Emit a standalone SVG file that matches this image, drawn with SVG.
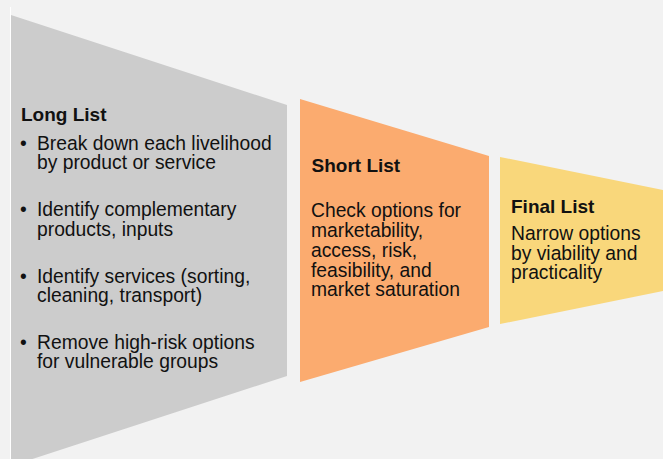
<svg xmlns="http://www.w3.org/2000/svg" width="663" height="459" viewBox="0 0 663 459">
  <style>
    .head { font-family: "Liberation Sans", Arial, sans-serif; font-weight: bold; font-size: 19px; fill: #111; }
    .body { font-family: "Liberation Sans", Arial, sans-serif; font-size: 19.3px; fill: #111; }
  </style>
  <rect width="663" height="459" fill="#f2f2f2"/>
  <line x1="10.5" y1="7" x2="10.5" y2="459" stroke="#ffffff" stroke-width="1"/>

  <!-- Stage 1: long list -->
  <g id="long-list">
    <polygon points="11,15 287,105 287,376 11,466" fill="#cccccc"/>
    <text class="head" x="21" y="121">Long List</text>
    <g class="body">
      <text x="20" y="149.5">•</text>
      <text x="37" y="149.5">Break down each livelihood</text>
      <text x="37" y="168.8">by product or service</text>
      <text x="20" y="216.4">•</text>
      <text x="37" y="216.4">Identify complementary</text>
      <text x="37" y="235.9">products, inputs</text>
      <text x="20" y="283.1">•</text>
      <text x="37" y="283.1">Identify services (sorting,</text>
      <text x="37" y="302.4">cleaning, transport)</text>
      <text x="20" y="349.1">•</text>
      <text x="37" y="349.1">Remove high-risk options</text>
      <text x="37" y="368.4">for vulnerable groups</text>
    </g>
  </g>

  <!-- Stage 2: short list -->
  <g id="short-list">
    <polygon points="300,99 489,156 489,327 300,382" fill="#fbab6f"/>
    <text class="head" x="311.5" y="171.7">Short List</text>
    <g class="body">
      <text x="311" y="217.3">Check options for</text>
      <text x="311" y="237">marketability,</text>
      <text x="311" y="256.8">access, risk,</text>
      <text x="311" y="276.5">feasibility, and</text>
      <text x="311" y="296.3">market saturation</text>
    </g>
  </g>

  <!-- Stage 3: final list -->
  <g id="final-list">
    <polygon points="500,157 663,190 663,291 500,324" fill="#f9d77b"/>
    <text class="head" x="511" y="212.7">Final List</text>
    <g class="body">
      <text x="511" y="240">Narrow options</text>
      <text x="511" y="259.7">by viability and</text>
      <text x="511" y="279.4">practicality</text>
    </g>
  </g>
</svg>
